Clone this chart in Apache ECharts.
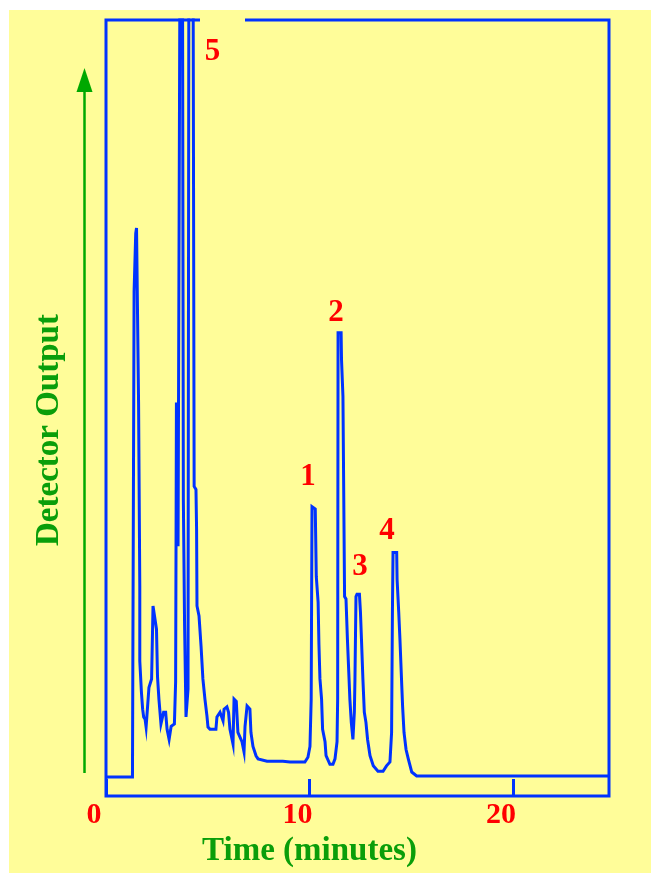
<!DOCTYPE html>
<html>
<head>
<meta charset="utf-8">
<script src="https://cdn.jsdelivr.net/npm/echarts@6/dist/echarts.min.js"></script>
<style>
  html, body { margin: 0; padding: 0; background: #ffffff; }
  #chart { width: 651px; height: 873px; }
</style>
</head>
<body>
<div id="chart"></div>
<script>
// Retention time (minutes)
const timeMin = [
  0.00, 1.30, 1.36, 1.38, 1.44, 1.46, 1.50, 1.58, 1.60, 1.66, 1.66, 1.66, 1.70, 1.74, 1.80, 1.85, 1.92, 1.97, 2.05,
  2.11, 2.24, 2.31, 2.40, 2.48, 2.53, 2.60, 2.70, 2.83, 2.93, 3.00, 3.10, 3.20, 3.36, 3.42, 3.44, 3.46, 3.50,
  3.54, 3.58, 3.63, 3.76, 3.80, 3.86, 3.93, 3.99, 4.03, 4.07, 4.28, 4.33, 4.42, 4.45, 4.47, 4.57, 4.67, 4.76,
  4.86, 4.96, 5.01, 5.11, 5.40, 5.45, 5.60, 5.75, 5.80, 5.94, 6.02, 6.09, 6.24, 6.29, 6.40, 6.48, 6.68, 6.78,
  6.83, 6.93, 7.07, 7.12, 7.22, 7.37, 7.47, 7.91, 8.69, 9.04, 9.28, 9.77, 9.92, 10.02, 10.08, 10.12, 10.28,
  10.33, 10.42, 10.46, 10.51, 10.59, 10.64, 10.76, 10.81, 11.00, 11.15, 11.25, 11.35, 11.38, 11.40, 11.55,
  11.57, 11.62, 11.64, 11.68, 11.72, 11.79, 11.86, 11.94, 11.98, 12.05, 12.13, 12.20, 12.23, 12.28, 12.33,
  12.45, 12.50, 12.55, 12.62, 12.69, 12.77, 12.85, 12.97, 13.13, 13.36, 13.61, 13.78, 13.95, 14.03, 14.07,
  14.10, 14.28, 14.30, 14.38, 14.44, 14.53, 14.57, 14.64, 14.74, 14.85, 15.02, 15.26, 24.71
];
// Detector output (relative units; peak 5 runs off scale)
const detector = [
  2.45, 2.45, 2.7, 65.0, 65.0, 72.5, 73.2, 73.2, 50.7, 50.7, 27.0, 17.4, 17.2, 13.4, 11.2, 10.2, 9.9, 8.9, 8.9,
  14.0, 15.1, 24.5, 24.4, 21.5, 15.4, 12.5, 9.3, 10.8, 10.8, 8.6, 7.3, 9.0, 9.3, 14.7, 32.2, 50.7, 50.7,
  32.2, 32.2, 105, 105, 38.2, 22.0, 10.2, 10.2, 13.8, 105, 105, 39.9, 39.5, 34.4, 24.5, 23.2, 19.3, 15.1,
  12.5, 10.3, 8.9, 8.6, 8.6, 10.2, 10.8, 9.7, 11.2, 11.5, 10.8, 8.6, 6.7, 12.5, 12.2, 8.2, 7.0, 5.7,
  9.0, 11.6, 11.2, 8.2, 6.4, 5.2, 4.8, 4.5, 4.5, 4.4, 4.4, 4.4, 5.0, 6.4, 12.5, 37.3, 37.0,
  28.3, 25.0, 19.6, 15.1, 12.5, 8.6, 7.0, 5.2, 4.1, 4.1, 4.8, 7.0, 12.5, 59.7, 59.7,
  56.2, 56.2, 51.5, 51.5, 25.7, 25.4, 20.2, 15.1, 12.5, 9.5, 7.3, 10.8, 15.1, 25.7, 26.0,
  26.0, 23.7, 20.2, 15.1, 10.8, 9.5, 7.3, 5.2, 3.9, 3.2, 3.2, 3.9, 4.4, 8.2, 23.7,
  31.4, 31.4, 27.9, 23.7, 20.2, 14.2, 11.6, 8.2, 6.0, 4.8, 3.1, 2.6, 2.6
];
// Peak numbers and label anchor positions (time, detector units)
const peakNames = ['5', '1', '2', '3', '4'];
const peakLabelTime = [5.23, 9.92, 11.30, 12.48, 13.80];
const peakLabelLevel = [95.9, 41.1, 62.2, 29.5, 34.1];
// Axis tick labels
const xTickValues = [0, 10, 20];

const BLUE = '#0033ff';
const YELLOW = '#fffd99';
const RED = '#ff0000';
const GREEN = '#0a9e0a';
const SERIF = '"Liberation Serif", "Times New Roman", serif';

const chart = echarts.init(document.getElementById('chart'), null, { renderer: 'canvas' });

const lineData = timeMin.map((t, i) => [t, detector[i]]);
const labelData = peakNames.map((n, i) => ({ value: [peakLabelTime[i], peakLabelLevel[i]], name: n }));

chart.setOption({
  animation: false,
  backgroundColor: '#ffffff',
  grid: {
    left: 106, top: 20, right: 42, bottom: 76,
    show: true, borderColor: BLUE, borderWidth: 3, backgroundColor: 'transparent'
  },
  xAxis: {
    type: 'value', min: 0, max: 24.71, interval: 10,
    axisLine: { show: false },
    splitLine: { show: false },
    axisTick: { show: true, inside: true, length: 17, lineStyle: { color: BLUE, width: 3 } },
    axisLabel: {
      show: true, color: RED, fontSize: 30, fontWeight: 'bold', fontFamily: SERIF,
      margin: 4, padding: [0, 24, 0, 0], showMaxLabel: false,
      formatter: v => (xTickValues.indexOf(v) >= 0 ? String(v) : '')
    },
    name: 'Time (minutes)', nameLocation: 'middle', nameGap: 33,
    nameTextStyle: { color: GREEN, fontSize: 33, fontWeight: 'bold', fontFamily: SERIF, padding: [0, 96, 0, 0] }
  },
  yAxis: {
    type: 'value', min: 0, max: 100,
    axisLine: { show: false }, axisTick: { show: false }, axisLabel: { show: false }, splitLine: { show: false },
    name: 'Detector Output', nameLocation: 'middle', nameRotate: 90, nameGap: 40,
    nameTextStyle: { color: GREEN, fontSize: 33, fontWeight: 'bold', fontFamily: SERIF, padding: [0, 44, 0, 0] }
  },
  graphic: [
    { type: 'rect', z: -10, shape: { x: 9, y: 10, width: 642, height: 863 }, style: { fill: YELLOW } },
    { type: 'rect', z: 100, shape: { x: 200, y: 16, width: 45, height: 8 }, style: { fill: YELLOW } },
    { type: 'line', z: 50, shape: { x1: 84.5, y1: 773, x2: 84.5, y2: 88 }, style: { stroke: '#00a800', lineWidth: 2.5 } },
    { type: 'polygon', z: 50, shape: { points: [[76.5, 92], [92.5, 92], [84.5, 68]] }, style: { fill: '#00a800' } }
  ],
  series: [
    {
      type: 'line', data: lineData, showSymbol: false, smooth: false, clip: true,
      lineStyle: { color: BLUE, width: 3, join: 'miter' }, z: 3
    },
    {
      type: 'scatter', data: labelData, symbolSize: 1, itemStyle: { color: 'rgba(0,0,0,0)' },
      label: {
        show: true, position: 'inside', formatter: p => p.name,
        color: RED, fontSize: 31, fontWeight: 'bold', fontFamily: SERIF,
        textBorderWidth: 0, textBorderColor: 'transparent', opacity: 1
      }, z: 5
    }
  ]
});
</script>
</body>
</html>
